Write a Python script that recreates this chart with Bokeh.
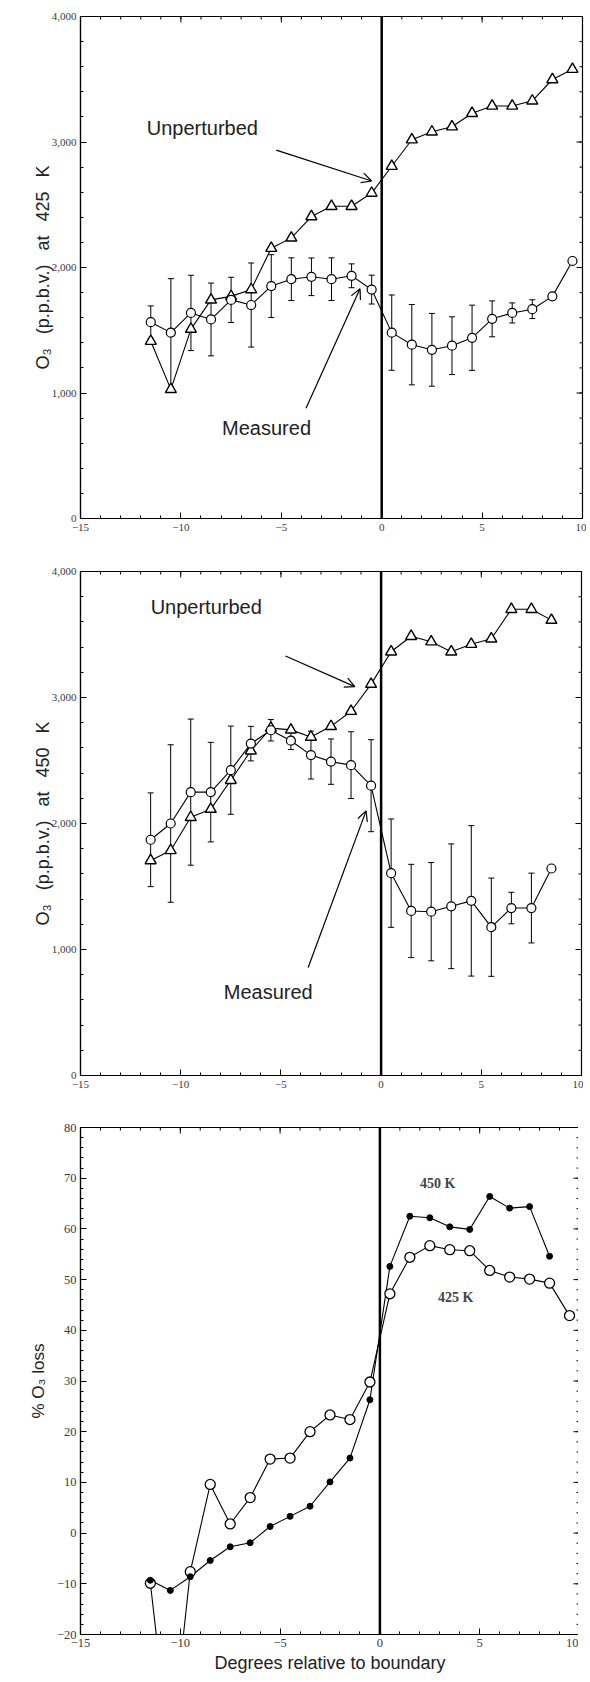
from bokeh.plotting import figure
from bokeh.models import (Span, Whisker, ColumnDataSource, Arrow, OpenHead, TeeHead,
                          Label, FixedTicker, NumeralTickFormatter, Range1d)
from bokeh.layouts import column
from bokeh.embed import file_html
from bokeh.resources import INLINE

# ---------------- data ----------------
# bin centres (degrees relative to vortex boundary)
x_425 = [-11.5, -10.5, -9.5, -8.5, -7.5, -6.5, -5.5, -4.5, -3.5, -2.5, -1.5,
         -0.5, 0.5, 1.5, 2.5, 3.5, 4.5, 5.5, 6.5, 7.5, 8.5, 9.5]
unperturbed_425 = [1413, 1029, 1509, 1742, 1770, 1824, 2154, 2236, 2406, 2488, 2488,
                   2593, 2807, 3018, 3081, 3122, 3229, 3287, 3287, 3328, 3498, 3580]
measured_425 = [1564, 1481, 1638, 1586, 1742, 1701, 1852, 1907, 1926, 1907, 1934,
                1824, 1481, 1385, 1344, 1377, 1440, 1591, 1638, 1668, 1770, 2052]
error_425 = [130, 430, 300, 290, 180, 335, 250, 170, 150, 170, 95,
             115, 300, 320, 290, 230, 260, 143, 80, 75, 0, 0]

x_450 = [-11.5, -10.5, -9.5, -8.5, -7.5, -6.5, -5.5, -4.5, -3.5, -2.5, -1.5,
         -0.5, 0.5, 1.5, 2.5, 3.5, 4.5, 5.5, 6.5, 7.5, 8.5]
unperturbed_450 = [1706, 1786, 2049, 2114, 2343, 2577, 2757, 2743, 2686, 2771, 2891,
                   3106, 3363, 3486, 3443, 3363, 3423, 3466, 3700, 3700, 3614]
measured_450 = [1871, 2000, 2249, 2249, 2423, 2634, 2740, 2657, 2543, 2491, 2463,
                2300, 1606, 1306, 1300, 1343, 1386, 1177, 1329, 1329, 1643]
error_450 = [372, 625, 580, 395, 350, 137, 85, 70, 190, 180, 265,
             365, 430, 370, 390, 495, 597, 390, 125, 277, 0]

loss_450 = [-9.3, -11.3, -8.6, -5.4, -2.7, -1.9, 1.3, 3.3, 5.3, 10.1, 14.8,
            26.3, 52.6, 62.5, 62.2, 60.4, 59.9, 66.4, 64.1, 64.4, 54.6]
loss_425 = [-9.9, -44.0, -7.6, 9.6, 1.8, 7.0, 14.6, 14.8, 20.0, 23.3, 22.4,
            29.8, 47.2, 54.4, 56.7, 55.9, 55.7, 51.8, 50.5, 50.1, 49.3, 42.9]

x_major = [-15, -10, -5, 0, 5, 10]
x_minor = list(range(-15, 11))
o3_major = [0, 1000, 2000, 3000, 4000]
o3_minor = list(range(0, 4001, 200))
loss_major = [-20, -10, 0, 10, 20, 30, 40, 50, 60, 70, 80]
loss_minor = list(range(-20, 81, 2))

TICK_FONT = "Liberation Serif"
LABEL_FONT = "Liberation Sans"
SP = "\u2002 "   # wide word gap as in the original typesetting


def mirror_ticks(p, xr, yr, xmaj, xmin, ymaj, ymin):
    """inward tick marks on the top and right frame edges"""
    top, right = yr[1], xr[1]
    p.ray(x=xmaj, y=[top] * len(xmaj), length=6, length_units="screen",
          angle=-90, angle_units="deg", line_color="black", line_width=1)
    p.ray(x=xmin, y=[top] * len(xmin), length=3, length_units="screen",
          angle=-90, angle_units="deg", line_color="black", line_width=1)
    p.ray(x=[right] * len(ymaj), y=ymaj, length=6, length_units="screen",
          angle=180, angle_units="deg", line_color="black", line_width=1)
    p.ray(x=[right] * len(ymin), y=ymin, length=3, length_units="screen",
          angle=180, angle_units="deg", line_color="black", line_width=1)


def style_axes(p, xticker, yticker, yfmt=None, tick_size="11px"):
    for ax in list(p.xaxis) + list(p.yaxis):
        ax.axis_line_color = "black"
        ax.axis_line_width = 1.2
        ax.major_tick_in = 6
        ax.major_tick_out = 0
        ax.minor_tick_in = 3
        ax.minor_tick_out = 0
        ax.major_tick_line_color = "black"
        ax.minor_tick_line_color = "black"
        ax.major_label_text_font = TICK_FONT
        ax.major_label_text_font_size = tick_size
        ax.major_label_text_color = "#3a3a3a"
        ax.axis_label_text_font = LABEL_FONT
        ax.axis_label_text_font_style = "normal"
        ax.axis_label_text_font_size = "18px"
        ax.axis_label_text_color = "#222222"
    p.xaxis.ticker = xticker
    p.yaxis.ticker = yticker
    if yfmt is not None:
        p.yaxis.formatter = yfmt
    p.yaxis.major_label_standoff = 4
    p.xaxis.major_label_standoff = 5
    p.xgrid.grid_line_color = None
    p.ygrid.grid_line_color = None
    p.outline_line_color = "black"
    p.outline_line_width = 1.2


def o3_panel(xs, unpert, meas, err, ylabel, left, fw, top, fh, bottom, texts):
    p = figure(frame_width=fw, frame_height=fh, output_backend="svg", toolbar_location=None,
               x_range=Range1d(-15, 10), y_range=Range1d(0, 4000),
               min_border_left=left, min_border_top=top, min_border_right=4,
               min_border_bottom=bottom, background_fill_color="white",
               border_fill_color="white")
    p.yaxis.axis_label = ylabel
    style_axes(p,
               FixedTicker(ticks=x_major, minor_ticks=x_minor),
               FixedTicker(ticks=o3_major, minor_ticks=o3_minor),
               NumeralTickFormatter(format="0,0"))
    p.yaxis.axis_label_standoff = -4
    mirror_ticks(p, (-15, 10), (0, 4000), x_major, x_minor, o3_major, o3_minor)
    # error bars
    ex = [x for x, e in zip(xs, err) if e > 0]
    lo = [m - e for m, e in zip(meas, err) if e > 0]
    hi = [m + e for m, e in zip(meas, err) if e > 0]
    esrc = ColumnDataSource(dict(x=ex, lower=lo, upper=hi))
    p.add_layout(Whisker(source=esrc, base="x", lower="lower", upper="upper",
                         line_color="black", line_width=1,
                         lower_head=TeeHead(size=6, line_width=1, line_color="black"),
                         upper_head=TeeHead(size=6, line_width=1, line_color="black")))
    p.line(xs, unpert, line_color="black", line_width=1.1)
    p.line(xs, meas, line_color="black", line_width=1.1)
    p.scatter(xs, unpert, marker="triangle", size=11, fill_color="white",
              line_color="black", line_width=1.4)
    p.scatter(xs, meas, marker="circle", size=9, fill_color="white",
              line_color="black", line_width=1.2)
    p.add_layout(Span(location=0, dimension="height", line_color="black", line_width=2.5))
    (ux, uy, ua), (mx, my, ma) = texts
    p.add_layout(Label(x=ux, y=uy, text="Unperturbed", text_font=LABEL_FONT,
                       text_font_size="20px", text_baseline="middle", text_color="#222222"))
    p.add_layout(Label(x=mx, y=my, text="Measured", text_font=LABEL_FONT,
                       text_font_size="20px", text_baseline="middle", text_color="#222222"))
    for (x0, y0, x1, y1) in (ua, ma):
        p.add_layout(Arrow(end=OpenHead(size=10, line_width=1.2, line_color="black"),
                           x_start=x0, y_start=y0, x_end=x1, y_end=y1,
                           line_width=1.2, line_color="black"))
    return p


p1 = o3_panel(x_425, unperturbed_425, measured_425, error_425,
              "O₃" + SP + "(p.p.b.v.)" + SP + "at" + SP + "425" + SP + "K",
              80, 502, 16, 502, 24,
              ((-11.7, 3110, (-5.25, 2935, -0.5, 2689)),
               (-7.95, 720, (-3.77, 878, -1.08, 1830))))

p2 = o3_panel(x_450, unperturbed_450, measured_450, error_450,
              "O₃" + SP + "(p.p.b.v.)" + SP + "at" + SP + "450" + SP + "K",
              78, 501, 29, 504, 22,
              ((-11.5, 3720, (-4.77, 3329, -1.31, 3086)),
               (-7.85, 660, (-3.64, 857, -0.75, 2100))))

p3 = figure(frame_width=499, frame_height=507, output_backend="svg", toolbar_location=None,
            x_range=Range1d(-15, 10), y_range=Range1d(-20, 80),
            min_border_left=75, min_border_top=30, min_border_right=4, min_border_bottom=40,
            background_fill_color="white", border_fill_color="white")
p3.yaxis.axis_label = "% O₃ loss"
p3.xaxis.axis_label = "Degrees relative to boundary"
style_axes(p3,
           FixedTicker(ticks=x_major, minor_ticks=x_minor),
           FixedTicker(ticks=loss_major, minor_ticks=loss_minor),
           tick_size="12.5px")
p3.yaxis.axis_label_text_font_size = "17px"
p3.yaxis.axis_label_standoff = 6
p3.xaxis.major_label_standoff = 4
p3.xaxis.axis_label_standoff = 3
mirror_ticks(p3, (-15, 10), (-20, 80), x_major, x_minor, loss_major, loss_minor)
p3.line(x_450, loss_450, line_color="black", line_width=1.1)
p3.line(x_425, loss_425, line_color="black", line_width=1.1)
p3.scatter(x_425, loss_425, marker="circle", size=10, fill_color="white",
           line_color="black", line_width=1.3)
p3.scatter(x_450, loss_450, marker="circle", size=6, fill_color="black",
           line_color="black", line_width=1)
p3.add_layout(Span(location=0, dimension="height", line_color="black", line_width=2.5))
p3.add_layout(Label(x=2.9, y=69.0, text="450 K", text_font=TICK_FONT, text_font_style="bold",
                    text_font_size="14px", text_align="center", text_baseline="middle"))
p3.add_layout(Label(x=3.8, y=46.5, text="425 K", text_font=TICK_FONT, text_font_style="bold",
                    text_font_size="14px", text_align="center", text_baseline="middle"))

layout = column(p1, p2, p3, spacing=0)
open("out.html", "w").write(file_html(layout, INLINE))
